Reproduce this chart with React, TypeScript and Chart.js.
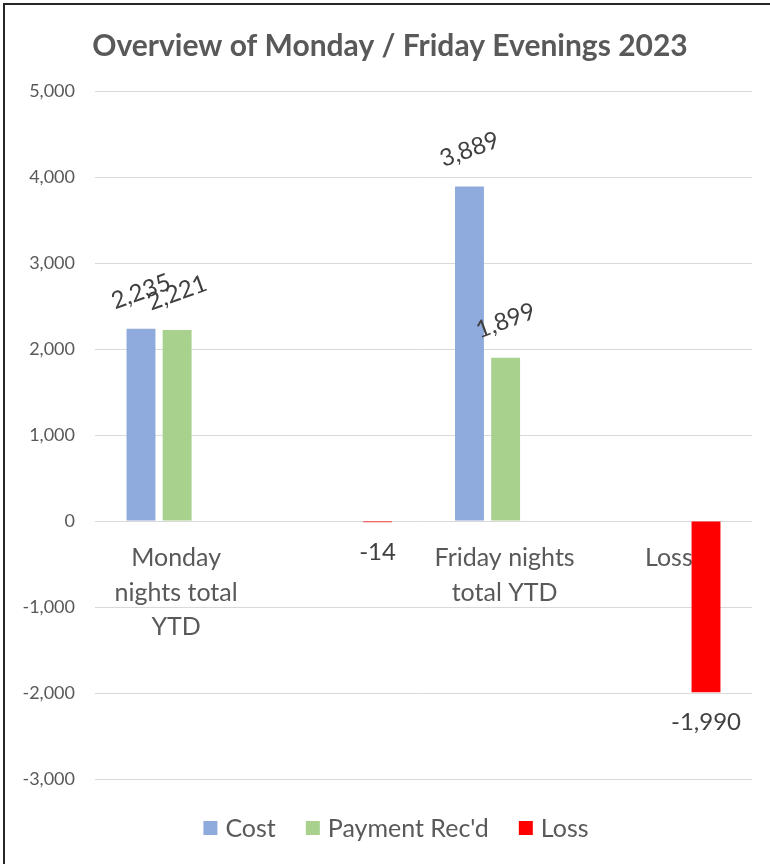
import React, { useEffect, useRef } from "react";
import { Chart, registerables } from "chart.js";

Chart.register(...registerables);

// ---- data ----
const categoryLines: string[][] = [
  ["Monday", "nights total", "YTD"],
  [""],
  ["Friday nights", "total YTD"],
  ["Loss"],
];
const seriesNames = ["Cost", "Payment Rec'd", "Loss"];
const costValues = [2235, null, 3889, null];
const paymentValues = [2221, null, 1899, null];
const lossValues = [null, -14, null, -1990];
const yMin = -3000;
const yMax = 5000;
const yStep = 1000;
const titleText = "Overview of Monday / Friday Evenings 2023";

// ---- styles ----
const seriesColors = ["#8FAADC", "#A9D18E", "#FF0000"];
const FONT = "Lato, 'Open Sans', sans-serif";
const TEXT_GRAY = "#595959";
const LABEL_DARK = "#404040";

const fmt = (v: number) => v.toLocaleString("en-US");

const categoryLabelsPlugin = {
  id: "categoryLabels",
  beforeDatasetsDraw(chart: any) {
    const { ctx, scales } = chart;
    const xs = scales.x;
    const ys = scales.y;
    const y0 = ys.getPixelForValue(0);
    ctx.save();
    ctx.font = `25px ${FONT}`;
    ctx.fillStyle = TEXT_GRAY;
    ctx.textAlign = "center";
    ctx.textBaseline = "middle";
    categoryLines.forEach((lines, i) => {
      const x = xs.getPixelForValue(i);
      lines.forEach((line, j) => {
        ctx.fillText(line, x - 1, y0 + 37 + j * 34.5);
      });
    });
    ctx.restore();
  },
};

const dataLabelsPlugin = {
  id: "dataLabels",
  afterDatasetsDraw(chart: any) {
    const { ctx } = chart;
    ctx.save();
    ctx.font = `24px ${FONT}`;
    ctx.fillStyle = LABEL_DARK;
    ctx.textAlign = "center";
    ctx.textBaseline = "middle";
    chart.data.datasets.forEach((ds: any, di: number) => {
      const meta = chart.getDatasetMeta(di);
      meta.data.forEach((el: any, i: number) => {
        const v = ds.data[i];
        if (v === null || v === undefined) return;
        if (v >= 0) {
          ctx.save();
          ctx.translate(el.x, el.y - 37);
          ctx.rotate((-20 * Math.PI) / 180);
          ctx.fillText(fmt(v), 0, 0);
          ctx.restore();
        } else {
          ctx.fillText(fmt(v), el.x, el.y + 30);
        }
      });
    });
    ctx.restore();
  },
};

const legendAndFramePlugin = {
  id: "customLegendFrame",
  afterDraw(chart: any) {
    const { ctx } = chart;
    ctx.save();
    // legend
    ctx.font = `25px ${FONT}`;
    ctx.textBaseline = "middle";
    ctx.textAlign = "left";
    const box = 14;
    const boxGap = 8;
    const itemGap = 30;
    const widths = seriesNames.map((n) => box + boxGap + ctx.measureText(n).width);
    const total = widths.reduce((a, b) => a + b, 0) + itemGap * (widths.length - 1);
    let x = 396 - total / 2;
    const cy = 828;
    seriesNames.forEach((n, i) => {
      ctx.fillStyle = seriesColors[i];
      ctx.fillRect(x, cy - box / 2, box, box);
      ctx.fillStyle = TEXT_GRAY;
      ctx.fillText(n, x + box + boxGap, cy + 1);
      x += widths[i] + itemGap;
    });
    // frame
    ctx.strokeStyle = "#262626";
    ctx.lineWidth = 2;
    ctx.beginPath();
    ctx.moveTo(4, 900);
    ctx.lineTo(4, 4);
    ctx.lineTo(800, 4);
    ctx.stroke();
    ctx.restore();
  },
};

export default function App() {
  const ref = useRef<HTMLCanvasElement | null>(null);

  useEffect(() => {
    if (!ref.current) return;
    const chart = new Chart(ref.current, {
      type: "bar",
      data: {
        labels: categoryLines.map((l) => l.join(" ")),
        datasets: [
          { label: seriesNames[0], data: costValues, backgroundColor: seriesColors[0] },
          { label: seriesNames[1], data: paymentValues, backgroundColor: seriesColors[1] },
          { label: seriesNames[2], data: lossValues, backgroundColor: seriesColors[2] },
        ] as any,
      },
      options: {
        responsive: false,
        animation: false,
        devicePixelRatio: 1,
        layout: { padding: { left: 10, right: 0, top: 0, bottom: 85 } },
        datasets: {
          bar: { categoryPercentage: 0.66, barPercentage: 0.8 },
        } as any,
        scales: {
          x: { display: false },
          y: {
            min: yMin,
            max: yMax,
            border: { display: false },
            grid: { color: "#D9D9D9", lineWidth: 1, drawTicks: false },
            ticks: {
              stepSize: yStep,
              padding: 20,
              color: TEXT_GRAY,
              font: { family: FONT, size: 18 },
              callback: (v: any) => fmt(Number(v)),
            },
            afterFit: (scale: any) => {
              scale.width = 85;
            },
          },
          yRight: {
            position: "right",
            min: yMin,
            max: yMax,
            border: { display: false },
            grid: { display: false },
            ticks: { display: false },
            afterFit: (scale: any) => {
              scale.width = 18;
            },
          },
        } as any,
        plugins: {
          legend: { display: false },
          tooltip: { enabled: false },
          title: {
            display: true,
            text: titleText,
            color: TEXT_GRAY,
            font: { family: FONT, size: 30, weight: "bold" },
            padding: { top: 28, bottom: 27 },
          },
        },
      },
      plugins: [categoryLabelsPlugin, dataLabelsPlugin, legendAndFramePlugin],
    });
    return () => chart.destroy();
  }, []);

  return (
    <div style={{ position: "absolute", left: 0, top: 0, width: 770, height: 864, background: "#fff" }}>
      <canvas ref={ref} width={770} height={864} style={{ display: "block" }} />
    </div>
  );
}
